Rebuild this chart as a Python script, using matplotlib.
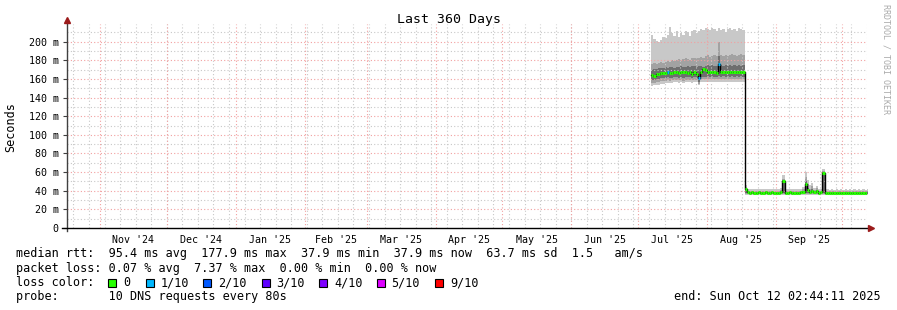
import datetime as dt
import matplotlib
matplotlib.use("Agg")
import matplotlib.pyplot as plt
import matplotlib.dates as mdates
from matplotlib.patches import Rectangle

MONO = "DejaVu Sans Mono"

# time range of the graph
start = dt.datetime(2024, 10, 17, 2, 44, 11)
end = dt.datetime(2025, 10, 12, 2, 44, 11)
first_day = dt.datetime(2025, 7, 7)

# median rtt per day (ms), Jul 7 .. Oct 12 2025
median_high = [164, 163, 165, 165, 166, 166, 166, 167, 166, 166,
               167, 167, 166, 167, 167, 167, 166, 167, 165, 167,
               165, 161, 168, 171, 170, 168, 167, 168, 167, 166,
               176, 167, 168, 168, 167, 168, 168, 167, 168, 168,
               167, 168]
median_low = [41.5, 38.3, 38.1, 38.2, 38.0, 38.1, 38.2, 38.0, 38.1, 38.2,
              38.0, 38.1, 38.2, 38.1, 38.0, 38.1, 38.3, 50.5, 38.0, 38.1,
              38.2, 38.0, 38.1, 38.0, 38.1, 38.2, 39.0, 47.5, 41.0, 38.5,
              39.5, 38.2, 40.0, 38.1, 38.3, 59.0, 38.0, 37.9, 37.8, 37.9,
              37.6, 37.7, 37.9, 37.8, 37.5, 37.6, 37.8, 37.7, 37.9, 37.6,
              37.8, 37.7, 37.9, 37.8, 37.6, 37.9]

# packet loss per day (out of 10)
loss_high = [0, 0, 0, 0, 0, 0, 0, 1, 0, 0,
             0, 0, 0, 0, 0, 0, 0, 0, 0, 0,
             0, 1, 0, 0, 0, 0, 0, 0, 0, 0,
             1, 0, 0, 0, 0, 0, 0, 0, 0, 0,
             0, 0]
loss_low = [0] * 56

# smoke bands (ms)
smoke_max_high = [207, 203, 201, 200, 202, 205, 204, 207, 216, 209,
                  206, 211, 205, 209, 207, 212, 210, 206, 211, 213,
                  209, 212, 214, 213, 215, 214, 213, 215, 214, 212,
                  215, 213, 214, 210, 214, 215, 213, 214, 212, 215,
                  214, 213]
smoke_q3_high = [176, 177, 176, 177, 178, 177, 178, 179, 178, 180,
                 179, 180, 181, 180, 181, 182, 181, 180, 182, 183,
                 182, 183, 184, 183, 185, 186, 184, 185, 186, 185,
                 200, 186, 185, 186, 185, 186, 187, 186, 185, 186,
                 187, 186]
smoke_d2_high = [170, 171, 171, 172, 172, 172, 173, 172, 173, 173,
                 172, 173, 173, 174, 173, 173, 174, 173, 174, 174,
                 173, 174, 174, 173, 174, 175, 174, 175, 174, 174,
                 185, 175, 174, 175, 174, 175, 174, 175, 174, 175,
                 174, 175]
smoke_d1_high = [159, 159, 160, 160, 161, 161, 161, 162, 161, 161,
                 162, 162, 161, 162, 161, 162, 162, 162, 161, 162,
                 161, 157, 162, 162, 162, 163, 162, 163, 162, 162,
                 163, 162, 163, 162, 163, 162, 163, 162, 163, 162,
                 163, 162]
smoke_q1_high = [156, 156, 157, 157, 158, 158, 158, 159, 158, 159,
                 159, 159, 159, 159, 158, 159, 159, 159, 159, 159,
                 159, 155, 159, 160, 160, 160, 160, 160, 160, 160,
                 160, 160, 160, 160, 160, 160, 160, 160, 160, 160,
                 160, 160]
smoke_min_high = [152, 153, 154, 154, 155, 155, 156, 156, 156, 156,
                  157, 157, 156, 157, 156, 157, 157, 157, 156, 157,
                  157, 153, 157, 157, 157, 157, 157, 157, 157, 157,
                  157, 157, 157, 157, 157, 157, 157, 157, 157, 157,
                  157, 157]

smoke_max_low = [46, 42, 41.5, 42, 41.5, 42, 41.5, 42, 41.5, 42,
                 41.5, 42, 41.5, 42, 41.5, 42, 43, 57, 42, 41.5,
                 42, 41.5, 42, 41.5, 42, 41.5, 44, 60, 52, 46,
                 48, 43, 45, 42, 41.5, 63, 42, 41.5, 41, 41.5,
                 41, 41.5, 41, 41.5, 41, 41.5, 41, 41.5, 41, 41.5,
                 41, 41.5, 41, 41.5, 41, 41.5]
smoke_q3_low = [44, 40, 40, 40, 40, 40, 40, 40, 40, 40,
                40, 40, 40, 40, 40, 40, 41, 53, 40, 40,
                40, 40, 40, 40, 40, 40, 42, 55, 47, 42,
                45, 41, 43, 40, 40, 61, 40, 40, 39.5, 39.5,
                39.5, 39.5, 39.5, 39.5, 39.5, 39.5, 39.5, 39.5, 39.5, 39.5,
                39.5, 39.5, 39.5, 39.5, 39.5, 39.5]
smoke_d2_low = [42, 39, 39, 39, 39, 39, 39, 39, 39, 39,
                39, 39, 39, 39, 39, 39, 39.5, 51, 39, 39,
                39, 39, 39, 39, 39, 39, 40, 50, 43, 40,
                42, 39.5, 41, 39, 39, 60, 39, 38.8, 38.6, 38.6,
                38.6, 38.6, 38.6, 38.6, 38.6, 38.6, 38.6, 38.6, 38.6, 38.6,
                38.6, 38.6, 38.6, 38.6, 38.6, 38.6]
smoke_d1_low = [37.2, 37.2, 37.2, 37.2, 37.2, 37.2, 37.2, 37.2, 37.2, 37.2,
                37.2, 37.2, 37.2, 37.2, 37.2, 37.2, 37.2, 37.5, 37.2, 37.2,
                37.2, 37.2, 37.2, 37.2, 37.2, 37.2, 37.2, 37.5, 37.2, 37.2,
                37.2, 37.2, 37.2, 37.2, 37.2, 37.5, 37.0, 36.8, 36.8, 36.8,
                36.8, 36.8, 36.8, 36.8, 36.8, 36.8, 36.8, 36.8, 36.8, 36.8,
                36.8, 36.8, 36.8, 36.8, 36.8, 36.8]
smoke_q1_low = [36.5] * 56
smoke_min_low = [35.5] * 56

median = median_high + median_low
loss = loss_high + loss_low
smoke_max = smoke_max_high + smoke_max_low
smoke_q3 = smoke_q3_high + smoke_q3_low
smoke_d2 = smoke_d2_high + smoke_d2_low
smoke_d1 = smoke_d1_high + smoke_d1_low
smoke_q1 = smoke_q1_high + smoke_q1_low
smoke_min = smoke_min_high + smoke_min_low

month_labels = ["Nov '24", "Dec '24", "Jan '25", "Feb '25", "Mar '25", "Apr '25",
                "May '25", "Jun '25", "Jul '25", "Aug '25", "Sep '25"]

loss_names = ["0", "1/10", "2/10", "3/10", "4/10", "5/10", "9/10"]
loss_colors = ["#26ff00", "#00b8ff", "#0059ff", "#5e00ff", "#7e00ff", "#dd00ff", "#ff0000"]

W, H = 897, 310
fig = plt.figure(figsize=(W / 100, H / 100), dpi=100)
fig.patch.set_facecolor("white")
ax = fig.add_axes([67 / W, (H - 228) / H, 800 / W, (228 - 24) / H])

ax.set_xlim(mdates.date2num(start), mdates.date2num(end))
ax.set_ylim(0, 219)

# grid (rrdtool draws it over the smoke)
gray = "#c8c8c8"
red = "#f2a0a0"
dots = (0, (1, 2))
for v in range(10, 220, 10):
    ax.axhline(v, color=red if v % 20 == 0 else gray, lw=0.8, ls=dots, zorder=2.5)

# weekly lines on sundays
d = dt.datetime(2024, 10, 20)
while d < end:
    ax.axvline(mdates.date2num(d), color=gray, lw=0.8, ls=dots, zorder=2.5)
    d += dt.timedelta(days=7)

# month lines, labels in the middle of each month
mids = []
for i in range(12):
    y, m = 2024 + (10 + i) // 12, (10 + i) % 12 + 1
    ms = dt.datetime(y, m, 1)
    ax.axvline(mdates.date2num(ms), color=red, lw=0.8, ls=dots, zorder=2.6)
    if i < 11:
        ny, nm = 2024 + (11 + i) // 12, (11 + i) % 12 + 1
        me = dt.datetime(ny, nm, 1)
        mids.append(mdates.date2num(ms + (me - ms) / 2))

# data
n = len(median)
xs = mdates.date2num([first_day + dt.timedelta(days=i) for i in range(n + 1)])

def ext(a):
    return list(a) + [a[-1]]

ax.fill_between(xs, ext(smoke_min), ext(smoke_max), step="post", color="#c8c8c8", lw=0, zorder=1)
ax.fill_between(xs, ext(smoke_q1), ext(smoke_q3), step="post", color="#a2a2a2", lw=0, zorder=1.1)
ax.fill_between(xs, ext(smoke_d1), ext(smoke_d2), step="post", color="#6e6e6e", lw=0, zorder=1.2)
ax.step(xs, ext(median), where="post", color="black", lw=1, zorder=3)
ax.hlines(median, xs[:-1], xs[1:], colors=[loss_colors[l] for l in loss], lw=2.2, zorder=4)

# axes
for s in ax.spines.values():
    s.set_visible(False)
ax.plot([0, 0], [-0.015, 1.01], transform=ax.transAxes, color="#404040", lw=1, clip_on=False, zorder=5)
ax.plot([-0.006, 1.004], [0, 0], transform=ax.transAxes, color="black", lw=1, clip_on=False, zorder=5)
ax.plot([0], [1.02], marker="^", ms=5, color="#9b1b1b", transform=ax.transAxes, clip_on=False, zorder=6)
ax.plot([1.005], [0], marker=">", ms=5, color="#9b1b1b", transform=ax.transAxes, clip_on=False, zorder=6)

yt = list(range(0, 201, 20))
ax.set_yticks(yt)
ax.set_yticklabels(["0"] + [f"{v} m" for v in yt[1:]], fontfamily=MONO, fontsize=7.2)
ax.tick_params(axis="y", length=3, width=0.8, color="#404040", pad=3)
ax.set_xticks(mids)
ax.set_xticklabels(month_labels, fontfamily=MONO, fontsize=7.2)
ax.tick_params(axis="x", length=0, pad=5)

# texts
def ftext(px, py, s, **kw):
    kw.setdefault("fontfamily", MONO)
    kw.setdefault("fontsize", 8.5)
    kw.setdefault("va", "center")
    fig.text(px / W, 1 - py / H, s, **kw)

ftext(448.5, 20, "Last 360 Days", ha="center", fontsize=9.5)
ftext(11, 127, "Seconds", ha="center", rotation=90)
ftext(886, 59, "RRDTOOL / TOBI OETIKER", ha="center", rotation=270, fontsize=6, color="#aaaaaa")

ftext(16, 254, "median rtt:  95.4 ms avg  177.9 ms max  37.9 ms min  37.9 ms now  63.7 ms sd  1.5   am/s")
ftext(16, 268.5, "packet loss: 0.07 % avg  7.37 % max  0.00 % min  0.00 % now")
ftext(16, 282.5, "loss color:")
box_x = [108, 146, 203, 261.5, 319, 376.5, 435]
for bx, name, col in zip(box_x, loss_names, loss_colors):
    fig.add_artist(Rectangle((bx / W, 1 - 287 / H), 8 / W, 8 / H, transform=fig.transFigure,
                             facecolor=col, edgecolor="black", lw=0.8))
    ftext(bx + 15, 282.5, name)
ftext(16, 296.5, "probe:       10 DNS requests every 80s")
ftext(881, 296.5, "end: Sun Oct 12 02:44:11 2025", ha="right")

fig.savefig("out.png", dpi=100)
